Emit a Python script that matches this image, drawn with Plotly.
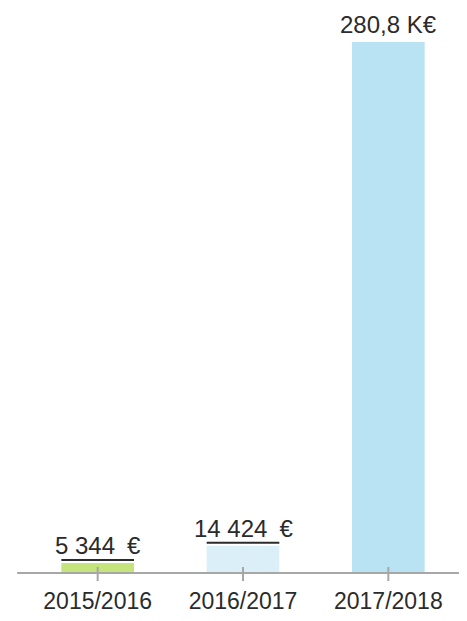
import plotly.graph_objects as go

categories = ["2015/2016", "2016/2017", "2017/2018"]
values = [5344, 14424, 280800]
value_labels = ["5 344\u2002€", "14 424\u2002€", "280,8 K€"]
bar_colors = ["#c5e47b", "#dbeff8", "#b9e3f3"]

TEXT = "#2b2b2b"
AXIS = "#a7a7a7"
FONT = "Liberation Sans, Arial, sans-serif"

fig = go.Figure()
fig.add_trace(go.Bar(
    x=categories, y=values,
    marker=dict(color=bar_colors, line=dict(width=0)),
    hoverinfo="skip",
))

shapes = []
annotations = []
for i, (c, v, lab) in enumerate(zip(categories, values, value_labels)):
    # dark rule above each bar
    shapes.append(dict(type="rect", xref="x", yref="y",
                       x0=i - 0.25, x1=i + 0.25,
                       ysizemode="pixel", yanchor=v, y0=2, y1=4,
                       fillcolor=TEXT, line=dict(width=0), layer="above"))
    # crossing tick
    shapes.append(dict(type="line", xref="x", yref="paper",
                       x0=i, x1=i, ysizemode="pixel", yanchor=0, y0=-8, y1=6,
                       line=dict(color=AXIS, width=2), layer="above"))
    annotations.append(dict(x=c, y=v, xref="x", yref="y", text=lab,
                            showarrow=False, yanchor="bottom", yshift=2,
                            font=dict(family=FONT, size=24, color=TEXT)))

# axis baseline extending beyond plot
shapes.append(dict(type="line", xref="paper", yref="paper",
                   x0=-0.018, x1=1.011, y0=0, y1=0,
                   line=dict(color=AXIS, width=2), layer="above"))

fig.update_layout(
    width=459, height=613,
    margin=dict(l=17, r=6, t=34, b=48),
    paper_bgcolor="white", plot_bgcolor="white",
    showlegend=False,
    bargap=0.5,
    shapes=shapes,
    annotations=annotations,
    xaxis=dict(showgrid=False, showline=False, zeroline=False, ticks="",
               tickfont=dict(family=FONT, size=23, color=TEXT),
               ticklabelstandoff=12),
    yaxis=dict(range=[0, 280800], visible=False, showgrid=False, zeroline=False),
)
fig.update_traces(cliponaxis=False)

fig.write_html("out.html")
